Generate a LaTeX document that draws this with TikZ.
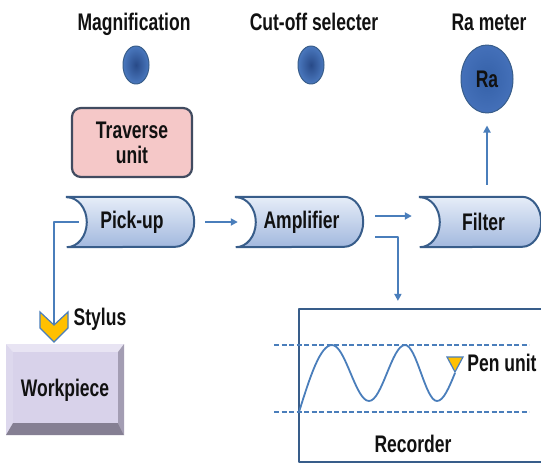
\documentclass[tikz,border=0pt]{standalone}
\usepackage{fontspec}
\setmainfont{Liberation Sans}[FakeStretch=0.73]
\usetikzlibrary{arrows.meta,calc,shapes.geometric}
\pgfdeclarelayer{background}
\pgfsetlayers{background,main}
\definecolor{arrblue}{HTML}{4A7EBB}
\definecolor{edgeblue}{HTML}{385D8A}
\definecolor{dotin}{HTML}{284A88}
\definecolor{dotout}{HTML}{4A78BE}
\definecolor{rain}{HTML}{3561A8}
\definecolor{raout}{HTML}{4470B9}
\definecolor{pinkfill}{HTML}{F5C8C8}
\definecolor{pinkedge}{HTML}{414B60}
\definecolor{proctop}{HTML}{E6EDF8}
\definecolor{procbot}{HTML}{A2B8DE}
\definecolor{gold}{HTML}{FFC000}
\definecolor{wface}{HTML}{D8D2EA}
\definecolor{wtop}{HTML}{E8E4F3}
\definecolor{wleft}{HTML}{DDD8ED}
\definecolor{wright}{HTML}{A39DB3}
\definecolor{wbot}{HTML}{857F93}
\definecolor{txt}{HTML}{111111}
\tikzset{
  lbl/.style={font=\bfseries\fontsize{24}{25}\selectfont, text=txt, inner sep=0pt},
  dotsty/.style={ellipse, minimum width=26pt, minimum height=38pt, inner sep=0pt,
    draw=edgeblue, line width=1pt, inner color=dotin, outer color=dotout},
  racirc/.style={lbl, ellipse, minimum width=52pt, minimum height=68pt, inner sep=0pt,
    draw=edgeblue, line width=1pt, inner color=rain, outer color=raout},
  trav/.style={lbl, rectangle, rounded corners=9pt, minimum width=120pt, minimum height=69pt,
    fill=pinkfill, draw=pinkedge, line width=2.2pt, align=center},
  proc/.style={lbl, rectangle, minimum width=127pt, minimum height=50pt},
  procsty/.style={draw=edgeblue, line width=2pt, top color=proctop, bottom color=procbot},
  conn/.style={draw=arrblue, line width=1.8pt},
  arr/.style={conn, -{Triangle[length=7pt,width=7pt]}},
  dashline/.style={draw=arrblue, line width=1.6pt, dash pattern=on 5pt off 2.5pt},
  wave/.style={draw=arrblue, line width=1.8pt},
  gold shape/.style={fill=gold, draw=arrblue, line width=1.2pt, line join=miter},
  recbox/.style={rectangle, draw=edgeblue, line width=2.2pt, minimum width=247pt, minimum height=153pt, inner sep=0pt}
}
\newcommand\procpath[2]{%
  \path[procsty] (#1.north west) -- ($(#1.north east)+(-#2,0)$)
    arc[start angle=90,end angle=-90,x radius=#2 pt,y radius=25pt]
    -- (#1.south west)
    arc[start angle=-90,end angle=90,x radius=20pt,y radius=25pt] -- cycle;}
\begin{document}
\begin{tikzpicture}[x=1pt, y=-1pt, line join=round]
\useasboundingbox (0,0) rectangle (541,464);
\clip (0,0) rectangle (541,464);

% titles
\node[lbl, anchor=base] (tmag) at (134,30) {Magnification};
\node[lbl, anchor=base] (tcut) at (314,30) {Cut-off selecter};
\node[lbl, anchor=base] (tra)  at (489,30) {Ra meter};

% knobs
\node[dotsty] (dmag) at (136,65) {};
\node[dotsty] (dcut) at (311,65) {};
\node[racirc] (ra) at (487,79) {Ra};

% traverse unit
\node[trav] (trav) at (132,142.5) {Traverse\\unit};

% process blocks
\node[proc] (pick) at (130.5,222) {\hspace{3pt}Pick-up};
\node[proc] (amp) at (299.5,222) {\hspace{4pt}Amplifier};
\node[proc, minimum width=121pt] (filt) at (480.5,222) {\hspace{6pt}Filter};
\begin{pgfonlayer}{background}
  \fill[white] (0,0) rectangle (541,464);
  \procpath{pick}{19}
  \procpath{amp}{19}
  \procpath{filt}{19}
\end{pgfonlayer}

% connectors
\draw[arr] ($(pick.east)+(11,0)$) -- ($(amp.west)+(2,0)$);
\draw[arr] ($(amp.east)+(12,-6)$) -- ($(filt.west)+(-8,-6)$);
\draw[arr] ($(filt.north -| ra.south)+(0,-12)$) -- ($(ra.south)+(0,12)$);

% recorder
\node[recbox] (rec) at (422.5,385.5) {};
\draw[arr] ($(amp.east)+(12,15)$) -| ($(rec.north west)+(100,-7)$);

% stylus and workpiece
\coordinate (stytop) at (54,325);
\draw[conn] ($(pick.west)+(12,0)$) -| (stytop);
\path[gold shape] (40,312) -- (54,325) -- (68,312) -- (68,328) -- (54,342) -- (40,328) -- cycle;
\node[lbl, anchor=base] (tsty) at (100,325) {Stylus};

\fill[wtop] (6,344) -- (124,344) -- (118,352) -- (13,352) -- cycle;
\fill[wleft] (6,344) -- (13,352) -- (13,423) -- (6,435) -- cycle;
\fill[wright] (124,344) -- (124,435) -- (118,423) -- (118,352) -- cycle;
\fill[wbot] (6,435) -- (124,435) -- (118,423) -- (13,423) -- cycle;
\fill[wface] (13,352) rectangle (118,423);
\node[lbl, anchor=base] (work) at (65,396) {Workpiece};

% recorder content
\coordinate (d1a) at (274,345);
\coordinate (d1b) at (529,345);
\coordinate (d2a) at (274,412);
\coordinate (d2b) at (529,412);
\draw[dashline] (d1a) -- (d1b);
\draw[dashline] (d2a) -- (d2b);
\draw[wave] (299,412) sin (332,345) cos (350.5,373) sin (369,401) cos (387,373)
  sin (405,345) cos (421,373) sin (437,401) cos (455,373);
\path[gold shape] (447,357) -- (463,357) -- (455,372) -- cycle;
\node[lbl, anchor=base] (tpen) at (502,371) {Pen unit};
\node[lbl, anchor=base] (trec) at (413,452) {Recorder};
\end{tikzpicture}
\end{document}
